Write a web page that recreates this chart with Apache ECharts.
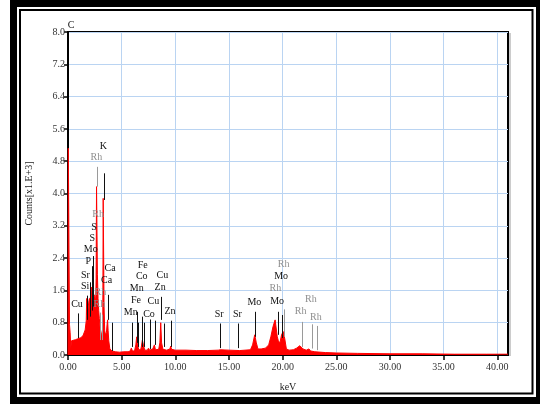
<!DOCTYPE html>
<html>
<head>
<meta charset="utf-8">
<script src="https://cdn.jsdelivr.net/npm/echarts@6/dist/echarts.min.js"></script>
<style>html,body{margin:0;padding:0;background:#fff}#c{width:540px;height:404px}</style>
</head>
<body>
<div id="c"></div>
<script>
// Spectrum [keV, counts x1000]
var spectrum = [
[0.00,0],[0.03,5.12],[0.10,5.12],[0.14,0.75],[0.20,0.55],[0.26,0.15],[0.32,0.35],[0.5,0.37],[0.7,0.38],[0.9,0.40],
[1.0,0.42],[1.2,0.43],[1.4,0.48],[1.5,0.52],[1.6,0.62],[1.7,0.85],[1.74,1.40],[1.78,1.0],[1.85,1.10],[1.95,1.35],
[2.0,1.40],[2.05,1.30],[2.12,1.55],[2.2,1.68],[2.28,1.65],[2.33,1.15],[2.40,1.5],[2.5,1.45],[2.58,1.3],[2.62,1.9],
[2.66,4.17],[2.70,4.17],[2.74,2.0],[2.80,1.4],[2.86,1.1],[2.92,0.9],[2.98,0.7],[3.05,0.6],[3.12,0.5],[3.18,0.45],
[3.24,0.7],[3.28,3.88],[3.32,3.88],[3.36,1.2],[3.42,0.6],[3.5,0.5],[3.58,0.55],[3.64,0.75],[3.69,0.87],[3.74,0.6],
[3.80,0.35],[3.9,0.15],[4.0,0.12],[4.1,0.10],[4.4,0.08],[4.8,0.07],[5.2,0.08],[5.6,0.08],[5.8,0.1],[5.9,0.17],
[6.0,0.1],[6.2,0.1],[6.32,0.25],[6.40,0.45],[6.48,0.25],[6.6,0.12],[6.8,0.15],[6.93,0.37],[7.03,0.25],[7.15,0.12],
[7.4,0.12],[7.5,0.17],[7.6,0.12],[7.9,0.15],[8.05,0.25],[8.15,0.13],[8.45,0.14],[8.56,0.3],[8.64,0.8],[8.72,0.3],
[8.85,0.14],[9.2,0.12],[9.5,0.15],[9.57,0.22],[9.65,0.14],[10,0.12],[11,0.12],[12,0.11],[13,0.11],[14,0.12],
[14.2,0.13],[15,0.12],[16,0.11],[17.0,0.13],[17.2,0.25],[17.4,0.5],[17.55,0.3],[17.7,0.15],[18.0,0.15],[18.4,0.17],
[18.7,0.25],[18.9,0.45],[19.1,0.7],[19.3,0.87],[19.4,0.85],[19.5,0.45],[19.6,0.35],[19.75,0.3],[19.9,0.5],[20.05,0.58],
[20.2,0.4],[20.35,0.15],[20.6,0.12],[21.0,0.13],[21.3,0.17],[21.6,0.23],[21.9,0.15],[22.2,0.12],[22.45,0.15],[22.6,0.1],
[23.0,0.08],[24,0.06],[25,0.05],[27,0.04],[30,0.03],[33,0.03],[36,0.02],[39,0.02],[41,0.02]
];
// Marker lines [keV, bottom, top, gray(1)/black(0)]
var lineMarks = [
[0.96,0.42,1.03,0],[1.80,0.87,1.47,0],[2.05,0.95,1.80,0],[2.27,1.1,2.2,0],[2.36,1.2,2.45,0],
[3.36,3.84,4.5,0],[3.76,0.87,1.49,0],[4.07,0.1,0.8,0],
[5.94,0.2,0.8,0],[6.40,0.3,1.07,0],[6.52,0.2,0.8,0],[6.93,0.2,0.95,0],[7.08,0.2,0.8,0],[7.65,0.15,0.88,0],
[8.08,0.25,0.85,0],[8.67,0.87,1.44,0],[8.95,0.2,0.78,0],[9.63,0.2,0.85,0],
[14.16,0.17,0.78,0],[15.83,0.17,0.78,0],[17.47,0.45,1.07,0],[19.61,0.5,1.07,0],[19.98,0.42,0.99,0],
[2.73,4.17,4.66,1],[2.98,0.37,1.05,1],[3.14,0.37,1.0,1],[20.17,0.45,1.13,1],[21.79,0.2,0.82,1],[22.78,0.16,0.76,1],[23.21,0.12,0.72,1]
];
// Peak labels [keV, y, text, gray(1)/black(0)]
var peakLabels = [
[0.28,8.17,'C',0],[3.29,5.17,'K',0],[2.42,3.16,'S',0],[2.27,2.89,'S',0],[2.12,2.62,'Mo',0],[1.89,2.31,'P',0],
[1.63,1.98,'Sr',0],[1.59,1.71,'Si',0],[0.84,1.26,'Cu',0],[3.92,2.14,'Ca',0],[3.59,1.86,'Ca',0],
[6.97,2.23,'Fe',0],[6.87,1.94,'Co',0],[6.41,1.65,'Mn',0],[6.34,1.36,'Fe',0],[5.85,1.06,'Mn',0],[7.55,1.01,'Co',0],
[8.79,1.96,'Cu',0],[8.58,1.68,'Zn',0],[7.95,1.32,'Cu',0],[9.51,1.09,'Zn',0],
[14.08,1.01,'Sr',0],[15.79,1.01,'Sr',0],[17.37,1.30,'Mo',0],[19.49,1.32,'Mo',0],[19.86,1.94,'Mo',0],
[2.64,4.89,'Rh',1],[2.80,3.49,'Rh',1],[3.01,1.56,'Rh',1],[2.92,1.26,'Rh',1],
[20.09,2.25,'Rh',1],[19.33,1.66,'Rh',1],[21.68,1.08,'Rh',1],[22.63,1.38,'Rh',1],[23.10,0.93,'Rh',1]
];
var yTicks = [0.0,0.8,1.6,2.4,3.2,4.0,4.8,5.6,6.4,7.2,8.0];
var xTicks = [0,5,10,15,20,25,30,35,40];

var FONT = '"Liberation Serif","DejaVu Serif",serif';
var chart = echarts.init(document.getElementById('c'), null, {renderer:'canvas'});
chart.setOption({
  animation:false,
  backgroundColor:'#fff',
  graphic:[
    {type:'rect', z:-10, shape:{x:10,y:0,width:530,height:404}, style:{fill:'#000'}},
    {type:'rect', z:-9, shape:{x:17,y:7,width:519,height:390}, style:{fill:'#fff'}},
    {type:'rect', z:-8, shape:{x:20,y:10,width:512.5,height:383.5}, style:{fill:'none',stroke:'#000',lineWidth:2}},
    {type:'line', z:-7, shape:{x1:510,y1:33,x2:510,y2:356}, style:{stroke:'#999',lineWidth:1}}
  ],
  grid:{left:68, top:32, right:32, bottom:49, show:true, borderColor:'#000', borderWidth:2, backgroundColor:'transparent'},
  xAxis:{
    type:'value', min:0, max:41, interval:5,
    name:'keV', nameLocation:'middle', nameGap:27,
    nameTextStyle:{fontFamily:FONT, fontSize:10, color:'#222'},
    axisLine:{show:true, lineStyle:{color:'#000', width:2}},
    axisTick:{show:true, length:5, lineStyle:{color:'#000', width:1.5},
      customValues: xTicks},
    axisLabel:{fontFamily:FONT, fontSize:10, color:'#333', margin:7,
      customValues: xTicks,
      formatter:function(v){ return (v%5===0 && v<=40) ? v.toFixed(2) : ''; }},
    splitLine:{show:true, lineStyle:{color:'#bad4f2', width:1}}
  },
  yAxis:{
    type:'value', min:0, max:8, interval:0.8,
    name:'Counts[x1.E+3]', nameLocation:'middle', nameGap:34, nameRotate:90,
    nameTextStyle:{fontFamily:FONT, fontSize:10, color:'#222'},
    axisLine:{show:true, lineStyle:{color:'#000', width:2}},
    axisTick:{show:true, length:4, lineStyle:{color:'#000', width:1.5}},
    axisLabel:{fontFamily:FONT, fontSize:10, color:'#333', margin:3,
      formatter:function(v){ return v.toFixed(1); }},
    splitLine:{show:true, lineStyle:{color:'#bad4f2', width:1}}
  },
  series:[
    {type:'line', data:spectrum, showSymbol:false, symbol:'none', smooth:false,
     lineStyle:{color:'#ff0000', width:1}, areaStyle:{color:'#ff0000', opacity:1}, z:2},
    {type:'custom', data:lineMarks, clip:false, z:3,
     renderItem:function(params, api){
       var a = api.coord([api.value(0), api.value(1)]);
       var b = api.coord([api.value(0), api.value(2)]);
       var g = api.value(3);
       return {type:'line', shape:{x1:Math.round(a[0])+0.5,y1:a[1],x2:Math.round(a[0])+0.5,y2:b[1]},
         style:{stroke: g ? '#9a9a9a' : '#111', lineWidth:1}};
     }},
    {type:'custom', data:peakLabels, clip:false, z:4,
     renderItem:function(params, api){
       var p = api.coord([api.value(0), api.value(1)]);
       var d = peakLabels[params.dataIndex];
       return {type:'text', x:p[0], y:p[1],
         style:{text:d[2], fill: d[3] ? '#8f8f8f' : '#111', font:'10px '+FONT, align:'center', verticalAlign:'middle'}};
     }}
  ]
});
</script>
</body>
</html>
